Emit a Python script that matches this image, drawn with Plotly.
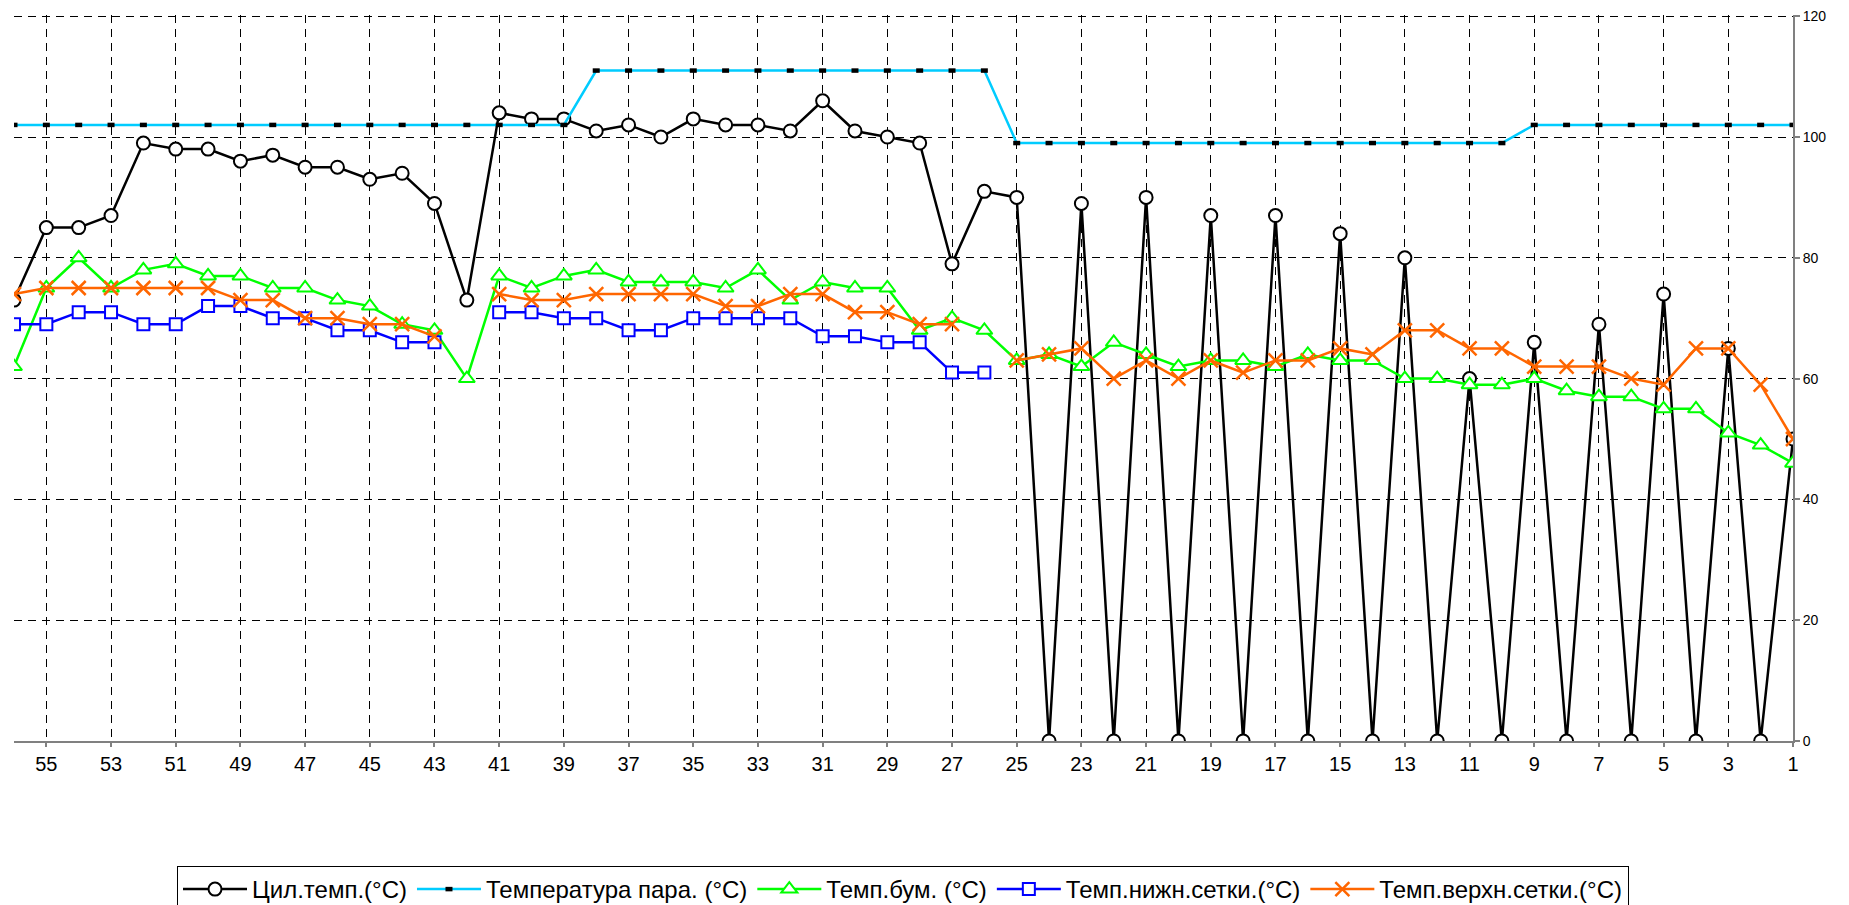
import plotly.graph_objects as go

categories = list(range(56, 0, -1))

cyl_temp = [73, 85, 85, 87, 99, 98, 98, 96, 97, 95, 95, 93, 94, 89, 73,
            104, 103, 103, 101, 102, 100, 103, 102, 102, 101, 106, 101, 100, 99, 79, 91,
            90, 0, 89, 0, 90, 0, 87, 0, 87, 0, 84, 0, 80, 0, 60, 0, 66, 0, 69, 0, 74, 0, 65, 0, 50]

steam_temp = [102] * 15 + [102, 102, 102] + [111] * 13 + [99] * 16 + [102] * 9

paper_temp = [62, 75, 80, 75, 78, 79, 77, 77, 75, 75, 73, 72, 69, 68, 60,
              77, 75, 77, 78, 76, 76, 76, 75, 78, 73, 76, 75, 75, 68, 70, 68,
              63, 64, 62, 66, 64, 62, 63, 63, 62, 64, 63, 63, 60, 60, 59, 59, 60, 58, 57, 57, 55, 55, 51, 49, 46]

lower_wire = [69, 69, 71, 71, 69, 69, 72, 72, 70, 70, 68, 68, 66, 66, None,
              71, 71, 70, 70, 68, 68, 70, 70, 70, 70, 67, 67, 66, 66, 61, 61] + [None] * 25

upper_wire = [74, 75, 75, 75, 75, 75, 75, 73, 73, 70, 70, 69, 69, 67, None,
              74, 73, 73, 74, 74, 74, 74, 72, 72, 74, 74, 71, 71, 69, 69, None,
              63, 64, 65, 60, 63, 60, 63, 61, 63, 63, 65, 64, 68, 68, 65, 65, 62, 62, 62, 60, 59, 65, 65, 59, 50]

names = ["Цил.темп.(°C)", "Температура пара. (°C)", "Темп.бум. (°C)",
         "Темп.нижн.сетки.(°C)", "Темп.верхн.сетки.(°C)"]

x_ticks = list(range(55, 0, -2))
y_ticks = list(range(0, 121, 20))

FONT = "Arial, Liberation Sans, sans-serif"

# page body has an 8px default margin; figure size/margins compensate for it
W, H = 1841, 897
M_L, M_T, M_R, M_B = 6, 7, 56, 164

fig = go.Figure()
fig.add_trace(go.Scatter(
    x=categories, y=cyl_temp, name=names[0], mode="lines+markers",
    line=dict(color="black", width=2.5),
    marker=dict(symbol="circle", size=13, color="white", line=dict(color="black", width=2))))
fig.add_trace(go.Scatter(
    x=categories, y=steam_temp, name=names[1], mode="lines+markers",
    line=dict(color="#00CCFF", width=2.5),
    marker=dict(symbol="line-ew", size=5, color="black", line=dict(color="black", width=4.5))))
fig.add_trace(go.Scatter(
    x=categories, y=paper_temp, name=names[2], mode="lines+markers",
    line=dict(color="#00FF00", width=2.5),
    marker=dict(symbol="triangle-up", size=14, color="white", line=dict(color="#00FF00", width=2))))
fig.add_trace(go.Scatter(
    x=categories, y=lower_wire, name=names[3], mode="lines+markers",
    line=dict(color="#0000FF", width=2.5),
    marker=dict(symbol="square", size=12, color="white", line=dict(color="#0000FF", width=2))))
fig.add_trace(go.Scatter(
    x=categories, y=upper_wire, name=names[4], mode="lines+markers",
    line=dict(color="#FF6600", width=2.5),
    marker=dict(symbol="x-thin", size=14, color="#FF6600", line=dict(color="#FF6600", width=2.5))))

plot_h = H - M_T - M_B
plot_w = W - M_L - M_R
legend_top = 858  # figure px
legend_cx = 895

fig.update_layout(
    width=W, height=H,
    margin=dict(l=M_L, r=M_R, t=M_T, b=M_B, autoexpand=False),
    paper_bgcolor="white", plot_bgcolor="white",
    font=dict(family=FONT, color="black"),
    showlegend=True,
    legend=dict(orientation="h", x=(legend_cx - M_L) / plot_w, xanchor="center",
                y=-(legend_top - (M_T + plot_h)) / plot_h, yanchor="top",
                bordercolor="black", borderwidth=1, bgcolor="white",
                font=dict(size=24, family=FONT), itemwidth=64, tracegroupgap=0),
    xaxis=dict(range=[56, 1], tickvals=x_ticks, ticktext=[str(v) for v in x_ticks],
               showgrid=True, gridcolor="black", gridwidth=1, griddash="8px,6px",
               showline=True, linecolor="#808080", linewidth=2,
               ticks="outside", ticklen=4, tickcolor="#808080", tickwidth=1.5,
               tickfont=dict(size=20, family=FONT), zeroline=False, automargin=False),
    yaxis=dict(range=[0, 120.2], side="right", tickvals=y_ticks,
               showgrid=True, gridcolor="black", gridwidth=1, griddash="8px,6px",
               showline=True, linecolor="#808080", linewidth=2,
               ticks="outside", ticklen=5, tickcolor="#808080", tickwidth=1.5,
               tickfont=dict(size=14, family=FONT), zeroline=False, automargin=False,
               ticklabeloverflow="allow"),
)

fig.write_html("out.html")
